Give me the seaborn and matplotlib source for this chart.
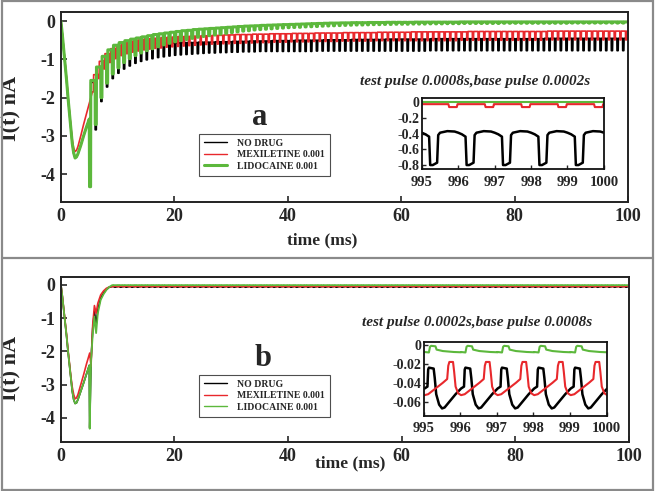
import numpy as np
import pandas as pd
import matplotlib.pyplot as plt
import seaborn as sns
from matplotlib.lines import Line2D
from matplotlib.patches import Rectangle

sns.set_style("ticks")
plt.rcParams['font.family'] = ['Liberation Serif', 'DejaVu Serif']
plt.rcParams['font.weight'] = 'bold'
plt.rcParams['axes.unicode_minus'] = False

BLACK, RED, GREEN = '#000000', '#e8282c', '#5cb83c'
labels = ['NO DRUG', 'MEXILETINE 0.001', 'LIDOCAINE 0.001']

# ---------------- panel a : test pulse 0.8 ms, base pulse 0.2 ms ----------------
t_start_a = [0.0, 0.25, 0.5, 0.75, 1.0, 1.25, 1.5, 1.75, 2.0, 2.25, 2.5, 2.75, 3.0, 3.5, 4.0, 4.5, 5.0]
black_start_a = [0, -0.35, -0.75, -1.15, -1.55, -2.0, -2.4, -2.8, -3.2, -3.45, -3.58, -3.55, -3.47, -3.25, -3.0, -2.77, -2.56]
red_start_a = [0, -0.33, -0.72, -1.1, -1.5, -1.95, -2.35, -2.75, -3.1, -3.32, -3.41, -3.38, -3.28, -3.0, -2.7, -2.42, -2.15]
green_start_a = [0, -0.35, -0.75, -1.15, -1.55, -2.0, -2.4, -2.8, -3.2, -3.45, -3.58, -3.55, -3.47, -3.25, -3.0, -2.77, -2.56]

# one value per 1 ms cycle, cycles from t = 5 to t = 99
black_hi_a = [-1.60, -1.40, -1.05, -0.86, -0.76, -0.70, -0.66, -0.63, -0.61, -0.60,
              -0.59, -0.58, -0.58, -0.57, -0.57, -0.57, -0.56, -0.56, -0.56, -0.55,
              -0.55, -0.55, -0.54, -0.54, -0.54, -0.53, -0.53, -0.53, -0.52, -0.52,
              -0.52, -0.52, -0.51, -0.51, -0.51, -0.51, -0.50, -0.50, -0.50, -0.50,
              -0.50, -0.49, -0.49, -0.49, -0.49, -0.49, -0.48, -0.48, -0.48, -0.48,
              -0.48, -0.48, -0.47, -0.47, -0.47, -0.47, -0.47, -0.47, -0.47, -0.47,
              -0.46, -0.46, -0.46, -0.46, -0.46, -0.46, -0.46, -0.46, -0.46, -0.46,
              -0.46, -0.46, -0.46, -0.46, -0.46, -0.46, -0.46, -0.46, -0.46, -0.46,
              -0.45, -0.45, -0.45, -0.45, -0.45, -0.45, -0.45, -0.45, -0.45, -0.45,
              -0.45, -0.45, -0.45, -0.45, -0.45]
black_lo_a = [-4.33, -2.84, -2.10, -1.72, -1.50, -1.36, -1.25, -1.17, -1.10, -1.05,
              -1.01, -0.98, -0.95, -0.93, -0.91, -0.89, -0.88, -0.87, -0.86, -0.85,
              -0.84, -0.83, -0.83, -0.82, -0.82, -0.81, -0.81, -0.80, -0.80, -0.80,
              -0.79, -0.79, -0.79, -0.79, -0.79, -0.79, -0.79, -0.79, -0.79, -0.79,
              -0.78, -0.78, -0.78, -0.78, -0.78, -0.78, -0.78, -0.78, -0.78, -0.78,
              -0.78, -0.78, -0.78, -0.78, -0.78, -0.78, -0.78, -0.78, -0.78, -0.78,
              -0.77, -0.77, -0.77, -0.77, -0.77, -0.77, -0.77, -0.77, -0.77, -0.77,
              -0.77, -0.77, -0.77, -0.77, -0.77, -0.77, -0.77, -0.77, -0.77, -0.77,
              -0.77, -0.77, -0.77, -0.77, -0.77, -0.77, -0.77, -0.77, -0.77, -0.77,
              -0.77, -0.77, -0.77, -0.77, -0.77]
red_hi_a = [-1.40, -1.05, -0.85, -0.72, -0.63, -0.57, -0.53, -0.50, -0.48, -0.46,
            -0.45, -0.44, -0.43, -0.42, -0.41, -0.40, -0.40, -0.39, -0.39, -0.38,
            -0.38, -0.37, -0.37, -0.36, -0.36, -0.35, -0.35, -0.35, -0.34, -0.34,
            -0.34, -0.33, -0.33, -0.33, -0.33, -0.32, -0.32, -0.32, -0.32, -0.31,
            -0.31, -0.31, -0.31, -0.31, -0.30, -0.30, -0.30, -0.30, -0.30, -0.30,
            -0.29, -0.29, -0.29, -0.29, -0.29, -0.29, -0.28, -0.28, -0.28, -0.28,
            -0.28, -0.28, -0.28, -0.28, -0.28, -0.28, -0.27, -0.27, -0.27, -0.27,
            -0.27, -0.27, -0.27, -0.27, -0.27, -0.27, -0.27, -0.27, -0.27, -0.27,
            -0.26, -0.26, -0.26, -0.26, -0.26, -0.26, -0.26, -0.26, -0.26, -0.26,
            -0.26, -0.26, -0.26, -0.26, -0.26]
red_lo_a = [-1.85, -1.50, -1.25, -1.08, -0.98, -0.90, -0.85, -0.81, -0.78, -0.75,
            -0.73, -0.71, -0.70, -0.68, -0.67, -0.66, -0.65, -0.64, -0.63, -0.62,
            -0.61, -0.60, -0.60, -0.59, -0.59, -0.58, -0.58, -0.57, -0.57, -0.56,
            -0.56, -0.56, -0.55, -0.55, -0.55, -0.54, -0.54, -0.54, -0.54, -0.53,
            -0.53, -0.53, -0.53, -0.53, -0.52, -0.52, -0.52, -0.52, -0.52, -0.52,
            -0.51, -0.51, -0.51, -0.51, -0.51, -0.51, -0.51, -0.51, -0.51, -0.51,
            -0.51, -0.51, -0.51, -0.51, -0.51, -0.50, -0.50, -0.50, -0.50, -0.50,
            -0.50, -0.50, -0.50, -0.50, -0.50, -0.50, -0.50, -0.50, -0.50, -0.50,
            -0.49, -0.49, -0.49, -0.49, -0.49, -0.49, -0.49, -0.49, -0.49, -0.49,
            -0.49, -0.49, -0.49, -0.49, -0.49]
green_hi_a = [-1.55, -1.20, -0.92, -0.75, -0.63, -0.56, -0.51, -0.47, -0.44, -0.41,
              -0.38, -0.35, -0.33, -0.31, -0.29, -0.27, -0.25, -0.24, -0.22, -0.21,
              -0.20, -0.19, -0.18, -0.17, -0.16, -0.15, -0.14, -0.13, -0.125, -0.12,
              -0.11, -0.105, -0.10, -0.095, -0.09, -0.085, -0.08, -0.075, -0.07, -0.065,
              -0.06, -0.055, -0.05, -0.05, -0.045, -0.045, -0.04, -0.04, -0.04, -0.035,
              -0.035, -0.035, -0.03, -0.03, -0.03, -0.03, -0.03, -0.025, -0.025, -0.025,
              -0.025, -0.025, -0.025, -0.025, -0.025, -0.02, -0.02, -0.02, -0.02, -0.02,
              -0.02, -0.02, -0.02, -0.02, -0.02, -0.02, -0.02, -0.02, -0.02, -0.02,
              -0.02, -0.02, -0.02, -0.02, -0.02, -0.02, -0.02, -0.02, -0.02, -0.02,
              -0.02, -0.02, -0.02, -0.02, -0.02]
green_lo_a = [-4.33, -2.70, -2.00, -1.62, -1.38, -1.22, -1.08, -0.98, -0.90, -0.83,
              -0.77, -0.72, -0.67, -0.62, -0.58, -0.54, -0.51, -0.48, -0.45, -0.42,
              -0.40, -0.38, -0.36, -0.34, -0.32, -0.30, -0.28, -0.26, -0.25, -0.23,
              -0.22, -0.21, -0.20, -0.19, -0.18, -0.17, -0.165, -0.16, -0.15, -0.145,
              -0.14, -0.13, -0.125, -0.12, -0.115, -0.11, -0.105, -0.10, -0.10, -0.095,
              -0.09, -0.09, -0.085, -0.085, -0.08, -0.08, -0.08, -0.075, -0.075, -0.075,
              -0.07, -0.07, -0.07, -0.065, -0.065, -0.065, -0.06, -0.06, -0.06, -0.06,
              -0.06, -0.06, -0.06, -0.055, -0.055, -0.055, -0.055, -0.055, -0.055, -0.055,
              -0.055, -0.055, -0.055, -0.055, -0.055, -0.05, -0.05, -0.05, -0.05, -0.05,
              -0.05, -0.05, -0.05, -0.05, -0.05]

# inset a: one 1 ms period near t = 1000 ms
phase_ia = [0.0, 0.10, 0.20, 0.23, 0.30, 0.42, 0.45, 0.50, 0.70, 0.90, 1.0]
black_ia = [-0.39, -0.41, -0.44, -0.80, -0.80, -0.77, -0.42, -0.39, -0.37, -0.375, -0.39]
phase_red_ia = [0.0, 0.73, 0.75, 0.96, 0.98, 1.0]
red_ia = [-0.028, -0.028, -0.065, -0.065, -0.028, -0.028]
phase_green_ia = [0.0, 1.0]
green_ia = [-0.004, -0.004]

# ---------------- panel b : test pulse 0.2 ms, base pulse 0.8 ms ----------------
t_start_b = [0.0, 0.25, 0.5, 0.75, 1.0, 1.25, 1.5, 1.75, 2.0, 2.25, 2.5, 2.75, 3.0, 3.5,
             4.0, 4.5, 5.0, 5.07, 5.3, 5.6, 5.9, 6.2, 6.5, 7.0, 7.5, 8.0, 8.5, 9.0]
black_start_b = [0, -0.35, -0.75, -1.15, -1.55, -2.0, -2.4, -2.8, -3.2, -3.45, -3.57, -3.55, -3.45, -3.2,
                 -2.95, -2.68, -2.42, -4.3, -2.3, -1.3, -0.8, -1.2, -0.75, -0.4, -0.25, -0.14, -0.07, -0.046]
red_start_b = [0, -0.33, -0.72, -1.1, -1.5, -1.95, -2.35, -2.75, -3.08, -3.3, -3.43, -3.4, -3.3, -3.0,
               -2.7, -2.38, -2.1, -2.05, -2.45, -1.2, -0.62, -0.85, -0.55, -0.3, -0.18, -0.1, -0.06, -0.053]
green_start_b = [0, -0.35, -0.75, -1.15, -1.55, -2.0, -2.4, -2.8, -3.2, -3.45, -3.57, -3.55, -3.45, -3.2,
                 -2.95, -2.68, -2.42, -4.33, -2.3, -1.5, -0.95, -1.45, -0.85, -0.45, -0.28, -0.15, -0.06, -0.0075]

phase_black_b = [0.0, 0.08, 0.10, 0.12, 0.25, 0.28, 0.32, 0.40, 0.48, 0.55, 0.70, 0.85, 1.0]
black_b = [-0.046, -0.044, -0.026, -0.024, -0.025, -0.035, -0.052, -0.063, -0.067, -0.066, -0.059, -0.052, -0.046]
phase_red_b = [0.0, 0.10, 0.30, 0.50, 0.62, 0.65, 0.68, 0.78, 0.81, 0.85, 0.92, 1.0]
red_b = [-0.053, -0.052, -0.046, -0.040, -0.036, -0.022, -0.018, -0.018, -0.028, -0.044, -0.051, -0.053]
phase_green_b = [0.0, 0.12, 0.15, 0.18, 0.30, 0.33, 0.50, 0.80, 1.0]
green_b = [-0.0075, -0.008, -0.002, -0.001, -0.0015, -0.005, -0.0065, -0.0075, -0.0078]

cycle_a = np.arange(5.05, 100, 1.0)


def train(t0, y0, hi, lo, offset):
    # stepped pulse train: base pulse (lo) 0.2 ms, test pulse (hi) 0.8 ms
    t, y = list(t0), list(y0)
    for c, h, l in zip(cycle_a + offset, hi, lo):
        t += [c, c + 0.18, c + 0.22, c + 0.98]
        y += [l, l, h, h]
    return t, y


def periodic(start, n, phase, vals):
    t, y = [], []
    for k in range(n):
        t += [start + k + p for p in phase]
        y += list(vals)
    return t, y


def line(ax, t, y, color, lw):
    sns.lineplot(x=t, y=y, ax=ax, color=color, linewidth=lw, estimator=None, sort=False)


def style_main(ax):
    ax.set_xlim(0, 100)
    ax.set_ylim(-4.73, 0.24)
    ax.set_xticks([0, 20, 40, 60, 80, 100])
    ax.set_yticks([0, -1, -2, -3, -4])
    ax.tick_params(direction='in', length=4, width=1.2, labelsize=13, pad=4)
    for s in ax.spines.values():
        s.set_linewidth(1.4)
        s.set_color('#222222')
    ax.set_ylabel('I(t) nA', fontsize=16, fontweight='bold')


def style_inset(ax, xpad):
    ax.set_xlim(995, 1000)
    ax.set_xticks([995, 996, 997, 998, 999, 1000])
    ax.tick_params(direction='in', length=3, width=1.0, labelsize=10.5, pad=2)
    ax.tick_params(axis='y', labelsize=10)
    ax.tick_params(axis='x', pad=xpad)
    for s in ax.spines.values():
        s.set_linewidth(1.3)
        s.set_color('#111111')
    ax.set_xlabel('')
    ax.set_ylabel('')


fig = plt.figure(figsize=(6.55, 4.91), dpi=100)

# panel a
ax_a = fig.add_axes([0.093, 0.5886, 0.866, 0.387])
t, y = train(t_start_a, black_start_a, black_hi_a, black_lo_a, 0.0)
line(ax_a, t, y, BLACK, 1.3)
t, y = train(t_start_a, red_start_a, red_hi_a, red_lo_a, 0.5)
line(ax_a, t, y, RED, 1.2)
t, y = train(t_start_a, green_start_a, green_hi_a, green_lo_a, 0.0)
line(ax_a, t, y, GREEN, 2.2)
style_main(ax_a)
ax_a.set_xlabel('time (ms)', fontsize=12.5, fontweight='bold')
ax_a.xaxis.set_label_coords(0.46, -0.2)
ax_a.xaxis.label.set_verticalalignment('center')
ax_a.yaxis.set_label_coords(-0.069, 0.495)
ax_a.text(0.35, 0.445, 'a', transform=ax_a.transAxes, fontsize=22, fontweight='bold',
          ha='center', va='center')
handles = [Line2D([], [], color=BLACK, lw=1.0), Line2D([], [], color=RED, lw=1.0),
           Line2D([], [], color=GREEN, lw=2.2)]
leg = ax_a.legend(handles, labels, loc='upper left', bbox_to_anchor=(0.2434, 0.358),
                  fontsize=7, frameon=True, fancybox=False, edgecolor='#222222',
                  handlelength=2.4, handletextpad=1.0, labelspacing=0.25, borderpad=0.5,
                  borderaxespad=0)
leg.get_frame().set_linewidth(0.8)
fig.text(0.725, 0.833, 'test pulse 0.0008s,base pulse 0.0002s', fontsize=11,
         fontweight='bold', fontstyle='italic', ha='center', va='center')

ins_a = fig.add_axes([0.644, 0.6558, 0.278, 0.1446])
t, y = periodic(995, 5, phase_green_ia, green_ia)
line(ins_a, t, y, GREEN, 1.5)
t, y = periodic(995, 5, phase_red_ia, red_ia)
line(ins_a, t, y, RED, 1.5)
t, y = periodic(995, 5, phase_ia, black_ia)
line(ins_a, t, y, BLACK, 1.8)
style_inset(ins_a, 5)
ins_a.set_ylim(-0.85, 0.05)
ins_a.set_yticks([0, -0.2, -0.4, -0.6, -0.8])
ins_a.set_yticklabels(['0', '-0.2', '-0.4', '-0.6', '-0.8'])

# panel b
ax_b = fig.add_axes([0.093, 0.0998, 0.867, 0.336])
t, y = periodic(9.0, 91, phase_black_b, black_b)
line(ax_b, t_start_b + t, black_start_b + y, BLACK, 1.2)
t, y = periodic(9.0, 91, phase_red_b, red_b)
line(ax_b, t_start_b + t, red_start_b + y, RED, 1.2)
t, y = periodic(9.0, 91, phase_green_b, green_b)
line(ax_b, t_start_b + t, green_start_b + y, GREEN, 1.3)
style_main(ax_b)
ax_b.set_xlabel('time (ms)', fontsize=12.5, fontweight='bold')
ax_b.xaxis.set_label_coords(0.51, -0.127)
ax_b.xaxis.label.set_verticalalignment('center')
ax_b.yaxis.set_label_coords(-0.069, 0.448)
ax_b.text(0.356, 0.509, 'b', transform=ax_b.transAxes, fontsize=22, fontweight='bold',
          ha='center', va='center')
handles = [Line2D([], [], color=BLACK, lw=1.0), Line2D([], [], color=RED, lw=1.0),
           Line2D([], [], color=GREEN, lw=1.0)]
leg = ax_b.legend(handles, labels, loc='upper left', bbox_to_anchor=(0.2434, 0.406),
                  fontsize=7, frameon=True, fancybox=False, edgecolor='#222222',
                  handlelength=2.4, handletextpad=1.0, labelspacing=0.25, borderpad=0.5,
                  borderaxespad=0)
leg.get_frame().set_linewidth(0.8)
fig.text(0.728, 0.344, 'test pulse 0.0002s,base pulse 0.0008s', fontsize=11,
         fontweight='bold', fontstyle='italic', ha='center', va='center')

ins_b = fig.add_axes([0.647, 0.1527, 0.279, 0.1507])
t, y = periodic(995, 5, phase_black_b, black_b)
line(ins_b, [x + 0.02 for x in t], y, BLACK, 1.8)
t, y = periodic(995, 5, phase_red_b, red_b)
line(ins_b, [x + 0.02 for x in t], y, RED, 1.5)
t, y = periodic(995, 5, phase_green_b, green_b)
line(ins_b, [x + 0.02 for x in t], y, GREEN, 1.5)
style_inset(ins_b, 4)
ins_b.set_ylim(-0.075, 0.003)
ins_b.set_yticks([0, -0.02, -0.04, -0.06])
ins_b.set_yticklabels(['0', '-0.02', '-0.04', '-0.06'])

# grey frames around the two panels
fig.add_artist(Rectangle((0.003, 0.003), 0.994, 0.994, transform=fig.transFigure,
                         fill=False, edgecolor='#8a8a8a', linewidth=1.6))
fig.add_artist(Line2D([0.003, 0.997], [0.4745, 0.4745], transform=fig.transFigure,
                      color='#8a8a8a', linewidth=1.6))

fig.savefig('out.png', dpi=100)
